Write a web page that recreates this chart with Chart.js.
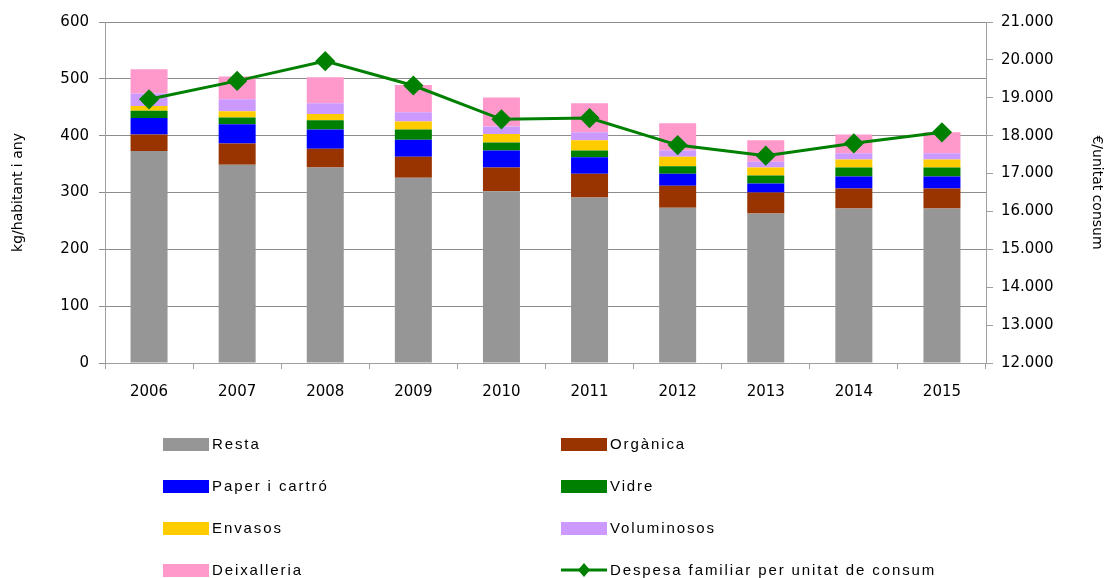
<!DOCTYPE html>
<html>
<head>
<meta charset="utf-8">
<script src="https://cdn.jsdelivr.net/npm/chart.js@4"></script>
<style>
  body { margin: 0; background: #fff; }
  #wrap { position: relative; width: 1109px; height: 578px; }
  #chartBox { position: absolute; left: 0; top: 0; width: 1109px; height: 415px; }
  #legend { position: absolute; left: 0; top: 0; width: 1109px; height: 578px; pointer-events: none; }
  .item { position: absolute; font-family: "Liberation Sans", Arial, sans-serif; font-size: 15px; letter-spacing: 1.9px; color: #000; line-height: 16px; }
  .sw { position: absolute; left: 0; top: 2px; width: 46px; height: 13px; }
  .lbl { position: absolute; left: 49px; top: 0; white-space: nowrap; }
</style>
</head>
<body>
<div id="wrap">
  <div id="chartBox"><canvas id="myChart"></canvas></div>
  <div id="legend"></div>
</div>
<script>
'use strict';
// data
var years = ['2006', '2007', '2008', '2009', '2010', '2011', '2012', '2013', '2014', '2015'];
var resta = [373, 349, 344, 326, 302, 291, 273, 263, 272, 272];
var organica = [29, 37, 33, 37, 42, 42, 39, 37, 35, 35];
var paper = [29, 34, 34, 30, 30, 29, 21, 16, 21, 21];
var vidre = [13, 12, 16, 18, 14, 12, 13, 14, 16, 16];
var envasos = [8, 11, 11, 14, 15, 18, 17, 14, 14, 14];
var voluminosos = [22, 21, 19, 16, 13, 14, 11, 10, 11, 11];
var deixalleria = [43, 40, 46, 48, 51, 51, 48, 38, 33, 37];
var despesa = [18960, 19446, 19967, 19324, 18432, 18466, 17752, 17471, 17797, 18088];

var barSeries = [
  { name: 'Resta', data: resta, color: '#969696' },
  { name: 'Orgànica', data: organica, color: '#993300' },
  { name: 'Paper i cartró', data: paper, color: '#0000ff' },
  { name: 'Vidre', data: vidre, color: '#008000' },
  { name: 'Envasos', data: envasos, color: '#ffcc00' },
  { name: 'Voluminosos', data: voluminosos, color: '#cc99ff' },
  { name: 'Deixalleria', data: deixalleria, color: '#ff99cc' }
];
var lineName = 'Despesa familiar per unitat de consum';
var lineColor = '#008000';

var tickFont = { family: 'DejaVu Sans', size: 15 };

var datasets = [];
datasets.push({
  type: 'line',
  label: lineName,
  data: despesa,
  yAxisID: 'y1',
  borderColor: lineColor,
  backgroundColor: lineColor,
  borderWidth: 3,
  pointStyle: 'rectRot',
  pointRadius: 8,
  pointHoverRadius: 8,
  tension: 0,
  order: 0
});
for (var i = 0; i < barSeries.length; i++) {
  datasets.push({
    type: 'bar',
    label: barSeries[i].name,
    data: barSeries[i].data,
    backgroundColor: barSeries[i].color,
    yAxisID: 'y',
    stack: 'residus',
    categoryPercentage: 1,
    barPercentage: 0.42,
    order: 1
  });
}

var ctx = document.getElementById('myChart').getContext('2d');
var chart = new Chart(ctx, {
  data: { labels: years, datasets: datasets },
  options: {
    responsive: true,
    maintainAspectRatio: false,
    animation: false,
    layout: { padding: { top: 22, bottom: 0, left: 6, right: 0 } },
    plugins: { legend: { display: false }, tooltip: { enabled: false } },
    scales: {
      x: {
        stacked: true,
        grid: { offset: true, drawOnChartArea: false, color: '#a0a0a0', tickLength: 6 },
        border: { color: '#a0a0a0' },
        ticks: { color: '#000', font: tickFont, padding: 14 },
        afterFit: function (scale) { scale.height = 52; }
      },
      y: {
        position: 'left',
        stacked: true,
        min: 0,
        max: 600,
        ticks: { stepSize: 100, color: '#000', font: tickFont, padding: 10 },
        grid: { color: '#8c8c8c', tickLength: 6 },
        border: { color: '#a0a0a0' },
        title: { display: true, text: 'kg/habitant i any', color: '#000', font: { family: 'DejaVu Sans', size: 14 } },
        afterFit: function (scale) { scale.width = 99; }
      },
      y1: {
        position: 'right',
        min: 12000,
        max: 21000,
        ticks: {
          stepSize: 1000,
          color: '#000',
          font: tickFont,
          padding: 8,
          callback: function (v) {
            var s = String(v);
            return s.slice(0, s.length - 3) + '.' + s.slice(-3);
          }
        },
        grid: { drawOnChartArea: false, color: '#a0a0a0', tickLength: 7 },
        border: { color: '#a0a0a0' },
        title: { display: true, text: '€/unitat consum', color: '#000', font: { family: 'DejaVu Sans', size: 14 } },
        afterFit: function (scale) { scale.width = 123; }
      }
    }
  }
});

// legend: 2 columns x 4 rows, built from the series
var legendElem = document.getElementById('legend');
var legendItems = barSeries.map(function (s) { return { name: s.name, color: s.color, line: false }; });
legendItems.push({ name: lineName, color: lineColor, line: true });
var colX = [163, 561];
var rowY = [436, 478, 520, 562];
for (var k = 0; k < legendItems.length; k++) {
  var it = legendItems[k];
  var div = document.createElement('div');
  div.className = 'item';
  div.style.left = colX[k % 2] + 'px';
  div.style.top = rowY[Math.floor(k / 2)] + 'px';
  var sw;
  if (it.line) {
    sw = document.createElement('canvas');
    sw.width = 46; sw.height = 16;
    sw.style.position = 'absolute'; sw.style.left = '0px'; sw.style.top = '0px';
    var c = sw.getContext('2d');
    c.strokeStyle = it.color; c.lineWidth = 3;
    c.beginPath(); c.moveTo(0, 8); c.lineTo(46, 8); c.stroke();
    c.fillStyle = it.color;
    c.beginPath(); c.moveTo(23, 1); c.lineTo(29, 8); c.lineTo(23, 15); c.lineTo(17, 8); c.closePath(); c.fill();
  } else {
    sw = document.createElement('div');
    sw.className = 'sw';
    sw.style.background = it.color;
  }
  var lbl = document.createElement('span');
  lbl.className = 'lbl';
  lbl.textContent = it.name;
  div.appendChild(sw);
  div.appendChild(lbl);
  legendElem.appendChild(div);
}
</script>
</body>
</html>
